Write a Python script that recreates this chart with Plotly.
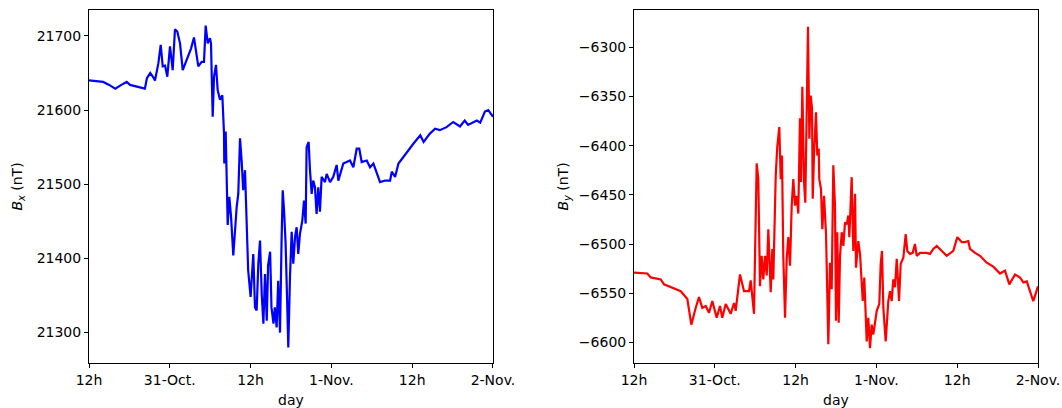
import plotly.graph_objects as go

# time in hours since 30-Oct 12:00
tick_hours = [0, 12, 24, 36, 48, 60]
tick_labels = ["12h", "31-Oct.", "12h", "1-Nov.", "12h", "2-Nov."]

t_bx = [0.0, 1.0, 2.1, 3.0, 3.9, 4.8, 5.6, 6.1, 7.0, 7.6, 8.3, 8.6, 9.1, 9.5, 9.8, 10.3, 10.65, 10.95,
        11.3, 11.63, 12.03, 12.43, 12.77, 13.11, 13.52, 13.92, 14.2, 14.51, 15.15, 15.59, 16.0, 16.23,
        16.74, 17.08, 17.33, 17.63, 17.97, 18.12, 18.37, 18.57, 18.86, 19.11, 19.46, 19.80, 20.05, 20.09,
        20.3, 20.54, 20.6, 20.84, 21.1, 21.43, 21.68, 21.93, 22.17, 22.43, 22.67, 22.9, 23.17, 23.3,
        23.64, 24.0, 24.4, 24.65, 24.9, 25.15, 25.4, 25.65, 25.9, 26.14, 26.4, 26.6, 26.9, 27.1, 27.4,
        27.6, 27.87, 28.1, 28.37, 28.6, 28.77, 28.97, 29.2, 29.4, 29.6, 29.85, 30.1, 30.34, 30.6, 30.84,
        31.08, 31.33, 31.68, 31.93, 32.18, 32.32, 32.62, 32.82, 33.07, 33.3, 33.56, 33.8, 34.05, 34.3,
        34.55, 35.04, 35.3, 35.8, 36.28, 36.78, 37.03, 37.77, 38.76, 39.26, 39.76, 40.14, 40.5, 41.25,
        41.74, 42.24, 42.74, 43.23, 43.97, 44.72, 44.97, 45.46, 45.96, 46.7, 47.7, 48.2, 49.2, 49.7,
        50.6, 51.4, 52.1, 53.1, 54.1, 55.1, 55.8, 56.3, 57.6, 58.1, 58.8, 59.3, 59.7, 60.0]
bx = [21640, 21639, 21638, 21634, 21629, 21634, 21638, 21634, 21632, 21630, 21629, 21643, 21650, 21645,
      21640, 21663, 21688, 21659, 21660, 21645, 21686, 21654, 21709, 21706, 21690, 21654, 21660, 21668,
      21683, 21698, 21668, 21659, 21665, 21665, 21714, 21690, 21697, 21690, 21591, 21645, 21661, 21627,
      21614, 21620, 21569, 21528, 21571, 21478, 21445, 21483, 21456, 21404, 21438, 21469, 21487, 21562,
      21532, 21492, 21519, 21488, 21384, 21348, 21406, 21334, 21330, 21393, 21424, 21352, 21312, 21379,
      21316, 21391, 21409, 21334, 21312, 21334, 21307, 21370, 21300, 21424, 21492, 21465, 21420, 21352,
      21280, 21375, 21436, 21393, 21429, 21442, 21406, 21433, 21451, 21478, 21447, 21550, 21557, 21519,
      21487, 21505, 21496, 21460, 21496, 21463, 21510, 21503, 21514, 21503, 21510, 21526, 21505, 21528,
      21532, 21523, 21548, 21548, 21530, 21532, 21523, 21528, 21514, 21503, 21505, 21505, 21517, 21510,
      21528, 21537, 21550, 21555, 21566, 21557, 21568, 21575, 21573, 21577, 21584, 21578, 21586, 21580,
      21586, 21583, 21598, 21600, 21595, 21591]

t_by = [0.0, 1.98, 2.48, 3.97, 4.46, 5.45, 6.94, 7.92, 8.51, 9.16, 9.65, 10.14, 10.65, 11.14, 11.63,
        12.28, 12.77, 13.11, 13.62, 14.36, 14.85, 15.1, 15.74, 16.34, 17.08, 17.33, 17.57, 17.82, 18.22,
        18.46, 18.71, 18.96, 19.2, 19.46, 19.71, 19.95, 20.3, 20.54, 20.69, 21.05, 21.28, 21.58, 21.79,
        21.98, 22.17, 22.43, 22.68, 22.92, 23.17, 23.42, 23.66, 23.91, 24.16, 24.4, 24.65, 24.8, 25.0,
        25.25, 25.44, 25.65, 25.84, 26.04, 26.24, 26.44, 26.54, 26.73, 27.03, 27.22, 27.43, 27.52, 27.77,
        27.97, 28.22, 28.52, 28.86, 29.11, 29.36, 29.6, 29.85, 30.0, 30.19, 30.4, 30.6, 30.85, 31.09,
        31.34, 31.59, 31.83, 31.98, 32.33, 32.57, 32.83, 32.97, 33.31, 33.57, 33.97, 34.2, 34.56, 34.8,
        35.05, 35.3, 35.54, 36.05, 36.43, 36.64, 36.83, 37.03, 37.38, 37.77, 38.02, 38.27, 38.51, 38.76,
        39.02, 39.36, 39.61, 40.0, 40.35, 40.59, 40.99, 41.39, 41.73, 41.99, 42.48, 43.47, 43.96, 44.45,
        44.96, 45.7, 46.44, 47.42, 48.02, 48.67, 49.16, 49.65, 49.9, 50.65, 51.39, 52.38, 53.36, 54.36,
        55.1, 55.74, 56.59, 57.33, 57.82, 58.33, 59.3, 60.0]
by = [-6529, -6530, -6534, -6536, -6541, -6544, -6548, -6556, -6582, -6565, -6554, -6565, -6563, -6570,
      -6558, -6575, -6563, -6575, -6561, -6571, -6560, -6568, -6531, -6548, -6548, -6537, -6556, -6571,
      -6418, -6434, -6543, -6512, -6536, -6512, -6532, -6485, -6549, -6505, -6536, -6430, -6401, -6381,
      -6434, -6410, -6512, -6575, -6515, -6493, -6522, -6461, -6434, -6461, -6451, -6469, -6372, -6437,
      -6340, -6437, -6458, -6335, -6279, -6393, -6349, -6362, -6454, -6410, -6366, -6410, -6403, -6434,
      -6444, -6485, -6451, -6490, -6602, -6519, -6546, -6420, -6461, -6578, -6488, -6580, -6512, -6488,
      -6502, -6478, -6480, -6471, -6493, -6432, -6507, -6449, -6524, -6497, -6510, -6558, -6534, -6599,
      -6575, -6606, -6582, -6592, -6568, -6561, -6520, -6507, -6565, -6599, -6558, -6548, -6558, -6536,
      -6544, -6515, -6558, -6520, -6514, -6490, -6507, -6510, -6509, -6500, -6512, -6509, -6509, -6510,
      -6505, -6502, -6507, -6512, -6507, -6493, -6498, -6498, -6497, -6505, -6509, -6512, -6519, -6523,
      -6530, -6527, -6541, -6531, -6534, -6539, -6538, -6558, -6543]

font = dict(family="DejaVu Sans", size=14, color="black")

fig = go.Figure()
fig.add_trace(go.Scatter(x=t_bx, y=bx, mode="lines", line=dict(color="#0000ff", width=2.2),
                         xaxis="x", yaxis="y", showlegend=False))
fig.add_trace(go.Scatter(x=t_by, y=by, mode="lines", line=dict(color="#ff0000", width=2.2),
                         xaxis="x2", yaxis="y2", showlegend=False))

axis_common = dict(showline=True, linecolor="black", linewidth=1, mirror=True, ticks="outside",
                   ticklen=4, tickwidth=1, tickcolor="black", showgrid=False, zeroline=False,
                   tickfont=font, automargin=False)

fig.update_layout(
    width=1062, height=408,
    margin=dict(l=89, r=24, t=10, b=45),
    paper_bgcolor="white", plot_bgcolor="white",
    font=font,
    xaxis=dict(domain=[0, 0.4257], range=[0, 60], tickmode="array", tickvals=tick_hours,
               ticktext=tick_labels, title=dict(text="day", font=font, standoff=8), anchor="y",
               **axis_common),
    yaxis=dict(domain=[0, 1], range=[21259, 21735], tickmode="array",
               tickvals=[21300, 21400, 21500, 21600, 21700], tickformat="d",
               title=dict(text="<i>B</i><sub><i>x</i></sub> (nT)", font=font, standoff=10),
               anchor="x", **axis_common),
    xaxis2=dict(domain=[0.5743, 1], range=[0, 60], tickmode="array", tickvals=tick_hours,
                ticktext=tick_labels, title=dict(text="day", font=font, standoff=8), anchor="y2",
                **axis_common),
    yaxis2=dict(domain=[0, 1], range=[-6621, -6262], tickmode="array",
                tickvals=[-6600, -6550, -6500, -6450, -6400, -6350, -6300], tickformat="d",
                title=dict(text="<i>B</i><sub><i>y</i></sub> (nT)", font=font, standoff=6),
                anchor="x2", **axis_common),
)

fig.write_html("out.html")
